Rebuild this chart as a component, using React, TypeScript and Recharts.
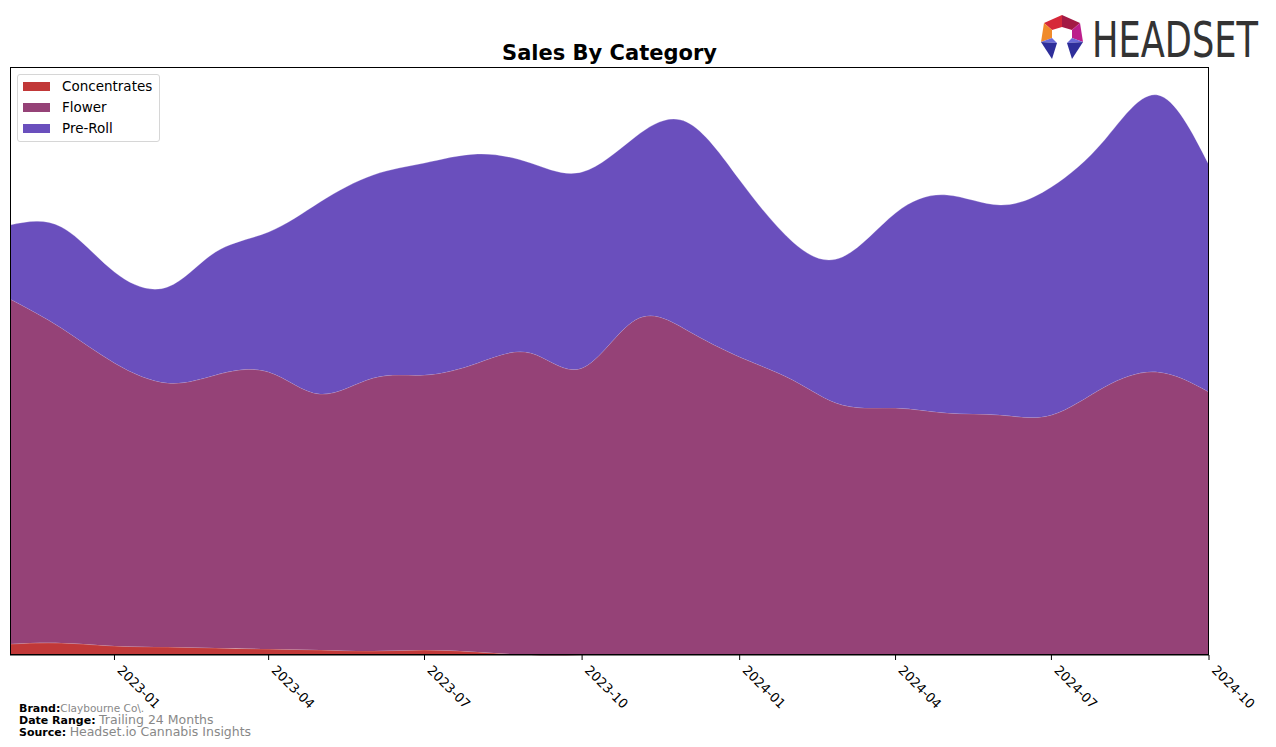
import React from 'react'
import { AreaChart, Area, XAxis, YAxis } from 'recharts'

const months = [
  '2022-11', '2022-12', '2023-01', '2023-02', '2023-03', '2023-04', '2023-05', '2023-06',
  '2023-07', '2023-08', '2023-09', '2023-10', '2023-11', '2023-12', '2024-01', '2024-02',
  '2024-03', '2024-04', '2024-05', '2024-06', '2024-07', '2024-08', '2024-09', '2024-10',
]
const concentrates = [11, 12, 9, 8, 7, 6, 5, 4, 5, 3, 0, 0, 0, 0, 0, 0, 0, 0, 0, 0, 0, 0, 0, 0]
const flower = [345, 315, 283, 264, 273, 277, 256, 273, 275, 289, 302, 287, 335, 325, 298, 275, 250, 247, 242, 240, 240, 268, 283, 263]
const preRoll = [74, 101, 91, 96, 123, 140, 192, 203, 212, 209, 190, 196, 183, 208, 177, 138, 148, 195, 218, 210, 228, 247, 277, 227]
const tickMonths = ['2023-01', '2023-04', '2023-07', '2023-10', '2024-01', '2024-04', '2024-07', '2024-10']

const toTs = (m: string) => {
  const [y, mo] = m.split('-').map(Number)
  return Date.UTC(y, mo - 1, 1)
}
const fmtMonth = (t: number) => {
  const d = new Date(t)
  return `${d.getUTCFullYear()}-${String(d.getUTCMonth() + 1).padStart(2, '0')}`
}

const data = months.map((m, i) => ({
  t: toTs(m),
  Concentrates: concentrates[i],
  Flower: flower[i],
  'Pre-Roll': preRoll[i],
}))

const series = [
  { key: 'Concentrates', color: '#C13838' },
  { key: 'Flower', color: '#954277' },
  { key: 'Pre-Roll', color: '#6A4FBD' },
]

const font = '"DejaVu Sans", sans-serif'

const RotTick = (props: any) => {
  const { x, y, payload } = props
  return (
    <text
      x={x + 2}
      y={y + 9}
      transform={`rotate(45, ${x + 2}, ${y + 9})`}
      textAnchor="start"
      fontFamily={font}
      fontSize={13}
      fill="#000"
    >
      {fmtMonth(payload.value)}
    </text>
  )
}

function Logo() {
  return (
    <svg width={246} height={62} style={{ position: 'absolute', left: 1030, top: 8 }}>
      <polygon points="32,7 14,15 22,22 32,19" fill="#D62839" />
      <polygon points="32,7 50,15 42,22 32,19" fill="#A31A45" />
      <polygon points="14,15 11,34 22,30 22,22" fill="#F08B2B" />
      <polygon points="50,15 53,34 42,30 42,22" fill="#BC1F8C" />
      <polygon points="11,34 22,30 27,35" fill="#6A6AD8" />
      <polygon points="11,34 27,35 22,51" fill="#2E2E9A" />
      <polygon points="53,34 42,30 37,35" fill="#6A6AD8" />
      <polygon points="53,34 37,35 42,51" fill="#2E2E9A" />
      <text
        x={62}
        y={49}
        fontFamily='"DejaVu Sans", sans-serif'
        fontSize={50}
        fill="#333"
        textLength={166}
        lengthAdjust="spacingAndGlyphs"
      >
        HEADSET
      </text>
    </svg>
  )
}

function Legend() {
  return (
    <div
      style={{
        position: 'absolute',
        left: 17,
        top: 74,
        width: 141,
        height: 66,
        border: '1px solid #d6d6d6',
        borderRadius: 3,
        background: 'rgba(255,255,255,0.85)',
        fontFamily: font,
        fontSize: 13.5,
      }}
    >
      {series.map((s, i) => (
        <div key={s.key} style={{ position: 'absolute', left: 5, top: 1 + i * 21, height: 20, display: 'flex', alignItems: 'center' }}>
          <span style={{ display: 'inline-block', width: 27, height: 9, background: s.color, marginRight: 12 }} />
          <span>{s.key}</span>
        </div>
      ))}
    </div>
  )
}

export default function App() {
  return (
    <div style={{ position: 'absolute', left: 0, top: 0, width: 1276, height: 747, background: '#fff', fontFamily: font }}>
      <div
        style={{
          position: 'absolute',
          left: 0,
          width: 1219,
          top: 41,
          textAlign: 'center',
          fontWeight: 'bold',
          fontSize: 21,
          fontFamily: font,
        }}
      >
        Sales By Category
      </div>
      <AreaChart width={1276} height={747} data={data} margin={{ top: 67, left: 10, right: 67, bottom: 32 }}>
        <XAxis
          dataKey="t"
          type="number"
          domain={['dataMin', 'dataMax']}
          ticks={tickMonths.map(toTs)}
          tick={<RotTick />}
          tickLine={{ stroke: '#000' }}
          tickSize={5}
          axisLine={{ stroke: '#000' }}
          height={60}
          interval={0}
        />
        <YAxis hide domain={[0, 588]} />
        {series.map((s) => (
          <Area
            key={s.key}
            dataKey={s.key}
            stackId="1"
            type="natural"
            fill={s.color}
            fillOpacity={1}
            stroke="#ffffff"
            strokeOpacity={0.25}
            strokeWidth={1}
            isAnimationActive={false}
          />
        ))}
      </AreaChart>
      <div
        style={{
          position: 'absolute',
          left: 10,
          top: 67,
          width: 1199,
          height: 588,
          border: '1px solid #000',
          boxSizing: 'border-box',
          pointerEvents: 'none',
        }}
      />
      <Legend />
      <Logo />
      <div style={{ position: 'absolute', left: 19, top: 703, fontSize: 11, lineHeight: '11px', fontFamily: font }}>
        <div>
          <b>Brand:</b>
          <span style={{ color: '#888', fontSize: 10.5 }}>Claybourne Co\.</span>
        </div>
        <div>
          <b>Date Range:</b> <span style={{ color: '#888', fontSize: 12.5 }}>Trailing 24 Months</span>
        </div>
        <div>
          <b>Source:</b> <span style={{ color: '#888', fontSize: 12.5 }}>Headset.io Cannabis Insights</span>
        </div>
      </div>
    </div>
  )
}
